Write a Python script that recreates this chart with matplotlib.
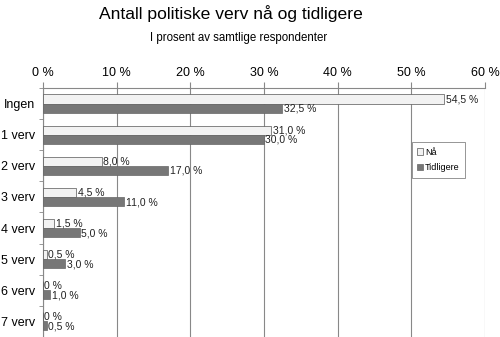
import matplotlib.pyplot as plt
import numpy as np

plt.rcParams['font.family'] = ['Liberation Sans', 'DejaVu Sans']

categories = ['Ingen', '1 verv', '2 verv', '3 verv', '4 verv', '5 verv', '6 verv', '7 verv']
naa = [54.5, 31.0, 8.0, 4.5, 1.5, 0.5, 0.0, 0.0]
tidligere = [32.5, 30.0, 17.0, 11.0, 5.0, 3.0, 1.0, 0.5]
naa_labels = ['54,5 %', '31,0 %', '8,0 %', '4,5 %', '1,5 %', '0,5 %', '0 %', '0 %']
tid_labels = ['32,5 %', '30,0 %', '17,0 %', '11,0 %', '5,0 %', '3,0 %', '1,0 %', '0,5 %']
xticks = [0, 10, 20, 30, 40, 50, 60]

fig = plt.figure(figsize=(5, 3.37), dpi=100)
ax = fig.add_axes([0.086, 0.0, 0.884, 0.739])

y = np.arange(len(categories))
h = 0.29
ax.barh(y - h / 2, naa, height=h, color='#f2f2f2', edgecolor='#555555', linewidth=0.5, label='Nå', zorder=3)
ax.barh(y + h / 2, tidligere, height=h, color='#777777', edgecolor='#666666', linewidth=0.5, label='Tidligere', zorder=3)

for i in range(len(categories)):
    ax.text(naa[i] + 0.2, y[i] - h / 2, naa_labels[i], va='center', ha='left', fontsize=7.5, color='#222222')
    ax.text(tidligere[i] + 0.2, y[i] + h / 2 + 0.02, tid_labels[i], va='center', ha='left', fontsize=7.5, color='#222222')

ax.set_xlim(0, 60)
ax.set_ylim(len(categories) - 0.5, -0.5)
ax.set_xticks(xticks)
ax.set_xticklabels([f'{t} %' for t in xticks], fontsize=9)
ax.xaxis.tick_top()
ax.tick_params(axis='x', length=4.3, color='#888888', pad=2.5)
ax.set_yticks(y)
ax.set_yticklabels(categories, fontsize=9)
ax.tick_params(axis='y', length=0, pad=6)
ax.set_yticks(np.arange(len(categories) + 1) - 0.5, minor=True)
ax.tick_params(axis='y', which='minor', length=3, color='#888888')
ax.grid(axis='x', color='#888888', linewidth=0.8, zorder=0)
for s in ['right', 'bottom']:
    ax.spines[s].set_visible(False)
for s in ['left', 'top']:
    ax.spines[s].set_color('#888888')
    ax.spines[s].set_linewidth(0.8)

leg = ax.legend(loc='upper left', bbox_to_anchor=(0.834, 0.782), borderaxespad=0, fontsize=6.5,
                frameon=True, fancybox=False, handlelength=0.7, handleheight=0.7, handletextpad=0.2,
                borderpad=0.6, labelspacing=0.75)
leg.get_frame().set_edgecolor('#666666')
leg.get_frame().set_linewidth(0.6)

fig.text(0.462, 0.96, 'Antall politiske verv nå og tidligere', ha='center', va='center', fontsize=12.6)
fig.text(0.478, 0.888, 'I prosent av samtlige respondenter', ha='center', va='center', fontsize=8.3)

fig.savefig('out.png', dpi=100)
